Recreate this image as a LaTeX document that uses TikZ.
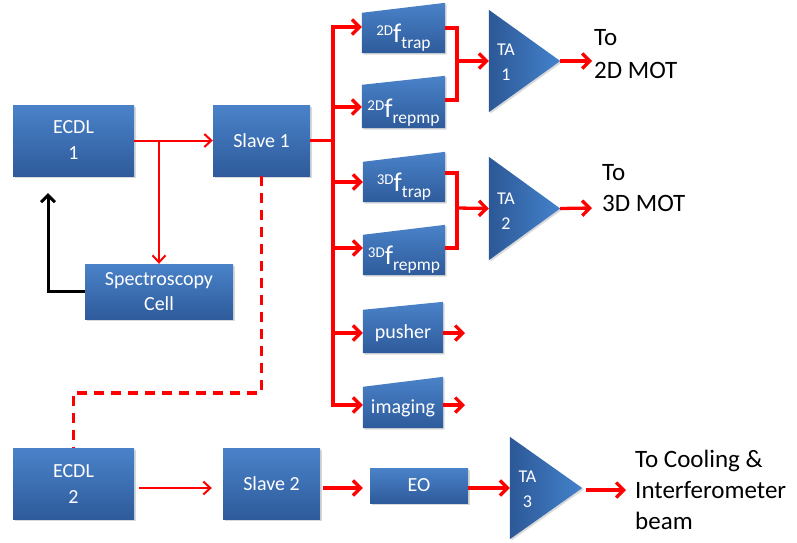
\documentclass[tikz,border=0pt]{standalone}
\usepackage{fontspec}
\setmainfont{Carlito}
\usetikzlibrary{arrows.meta,shadows,calc}
\pgfdeclarelayer{background}
\pgfsetlayers{background,main}
\definecolor{boxtop}{RGB}{74,130,201}
\definecolor{boxbot}{RGB}{46,91,155}
\definecolor{taleft}{RGB}{44,88,150}
\definecolor{taright}{RGB}{68,130,204}
\definecolor{beam}{RGB}{255,0,0}
\newcommand\aomlab[2]{{\fontsize{15}{15}\selectfont\raisebox{7pt}{#1}}{\fontsize{27}{27}\selectfont f}{\fontsize{17.5}{17.5}\selectfont\raisebox{-6pt}{#2}}}
\tikzset{
  blockbox/.style={rectangle, inner sep=0pt, top color=boxtop, bottom color=boxbot, draw=none,
    text=white, font=\fontsize{20}{26}\selectfont, align=center,
    drop shadow={opacity=0.3, shadow xshift=1.5pt, shadow yshift=-1.5pt}},
  frame/.style={rectangle, inner sep=0pt},
  aomshape/.style={top color=boxtop, bottom color=boxbot,
    drop shadow={opacity=0.3, shadow xshift=1.5pt, shadow yshift=-1.5pt}},
  tashape/.style={left color=taleft, right color=taright,
    drop shadow={opacity=0.3, shadow xshift=1.5pt, shadow yshift=-1.5pt}},
  wtext/.style={text=white, inner sep=0pt, align=center},
  talab/.style={wtext, font=\fontsize{18}{25}\selectfont},
  btext/.style={text=black, inner sep=0pt, align=left, anchor=west, font=\fontsize{25}{31}\selectfont},
  thinbeam/.style={draw=beam, line width=2pt, -{Straight Barb[length=7pt,width=13pt]}},
  thickbeam/.style={draw=beam, line width=3.3pt, -{Straight Barb[length=7.5pt,width=15pt]}},
  busline/.style={draw=beam, line width=3.3pt},
  dashbeam/.style={draw=beam, line width=3.3pt, dash pattern=on 10pt off 7pt},
  blackfb/.style={draw=black, line width=3pt, -{Straight Barb[length=7pt,width=14pt]}},
}
\begin{document}
\begin{tikzpicture}[x=1pt,y=-1pt]
\useasboundingbox (0,0) rectangle (797,542);
% rectangular blocks
\node[blockbox, minimum width=121pt, minimum height=71pt] (e1) at (73.5,140.5) {ECDL\\1};
\node[blockbox, minimum width=97pt, minimum height=71pt] (s1) at (261.5,140.5) {Slave 1};
\node[blockbox, minimum width=148pt, minimum height=55pt, font=\fontsize{20}{25}\selectfont] (spec) at (159,291.5) {Spectroscopy\\Cell};
\node[blockbox, minimum width=121pt, minimum height=71pt] (e2) at (73.5,483.5) {ECDL\\2};
\node[blockbox, minimum width=97pt, minimum height=71pt] (s2) at (271.5,483.5) {Slave 2};
\node[blockbox, minimum width=98pt, minimum height=35pt] (eo) at (419,485.5) {EO};
% trapezoid frames
\node[frame, minimum width=83pt, minimum height=50pt] (a2t) at (403.5,28) {};
\node[frame, minimum width=83pt, minimum height=52pt] (a2r) at (403.5,102) {};
\node[frame, minimum width=82pt, minimum height=50pt] (a3t) at (404,177) {};
\node[frame, minimum width=82pt, minimum height=50pt] (a3r) at (404,250) {};
\node[frame, minimum width=80pt, minimum height=51pt] (push) at (403,327.5) {};
\node[frame, minimum width=80pt, minimum height=51pt] (img) at (403,402.5) {};
% triangle frames
\node[frame, minimum width=71pt, minimum height=102pt] (ta1) at (524.5,61) {};
\node[frame, minimum width=71pt, minimum height=103pt] (ta2) at (524.5,208.5) {};
\node[frame, minimum width=72pt, minimum height=102pt] (ta3) at (546,488) {};
\begin{pgfonlayer}{background}
\foreach \nm/\dy in {a2t/10pt,a2r/9pt,a3t/10pt,a3r/10pt,push/8pt,img/10pt}
  \path[aomshape] (\nm.south west) -- (\nm.south east) -- (\nm.north east) -- ([yshift=-\dy]\nm.north west) -- cycle;
\foreach \nm in {ta1,ta2,ta3}
  \path[tashape] (\nm.north west) -- (\nm.east) -- (\nm.south west) -- cycle;
\end{pgfonlayer}
% labels
\node[wtext, anchor=base] (a2tl) at ([yshift=11pt]a2t.south) {\aomlab{2D}{trap}};
\node[wtext, anchor=base] (a2rl) at ([yshift=11pt]a2r.south) {\aomlab{2D}{repmp}};
\node[wtext, anchor=base] (a3tl) at ([yshift=11pt]a3t.south) {\aomlab{3D}{trap}};
\node[wtext, anchor=base] (a3rl) at ([yshift=11pt]a3r.south) {\aomlab{3D}{repmp}};
\node[wtext, anchor=base, font=\fontsize{20}{24}\selectfont] (pushl) at ([yshift=15pt]push.south) {pusher};
\node[wtext, anchor=base, font=\fontsize{20}{24}\selectfont] (imgl) at ([yshift=15pt]img.south) {imaging};
\node[talab] (ta1l) at (506,62) {TA\\1};
\node[talab] (ta2l) at (506,211) {TA\\2};
\node[talab] (ta3l) at (527.5,489.5) {TA\\3};
\node[btext] (mot2) at (594,54) {To\\[2pt]2D MOT};
\node[btext] (mot3) at (602,188) {To\\3D MOT};
\node[btext] (cool) at (635,490) {To Cooling \&\\Interferometer\\beam};
% coordinates
\coordinate (bus) at (333,140.5);
\coordinate (j2) at (457,61);
\coordinate (j3) at (457,208);
\coordinate (pusho) at (465,333);
\coordinate (imgo) at (465,405);
\coordinate (o1) at (592,61);
\coordinate (o2) at (592,208);
\coordinate (o3) at (626,490);
\coordinate (fb) at (48,193);
\coordinate (dcorner) at (73.5,393);
% upper left
\draw[thinbeam] (e1.east) -- (s1.west);
\draw[thinbeam] (e1.east -| spec.north) -- (spec.north);
\draw[blackfb] (spec.west) -| (fb);
\draw[dashbeam] (s1.south) |- (dcorner) -- (e2.north);
% bus
\draw[busline] (s1.east) -- (bus);
\draw[thickbeam] (bus) |- ([yshift=1pt]a2t.west);
\draw[thickbeam] (bus) |- ([yshift=-5pt]a2r.west);
\draw[thickbeam] (bus) |- ([yshift=-5pt]a3t.west);
\draw[thickbeam] (bus) |- ([yshift=2pt]a3r.west);
\draw[thickbeam] (bus) |- ([yshift=-5.5pt]push.west);
\draw[thickbeam] (bus) |- ([yshift=-2.5pt]img.west);
% combiners
\draw[busline] (a2t.east) -| (j2) |- ([yshift=2pt]a2r.east);
\draw[thickbeam] (j2) -- (ta1.west);
\draw[busline] ([yshift=4pt]a3t.east) -| (j3) |- ([yshift=2pt]a3r.east);
\draw[thickbeam] (j3) -- (ta2.west);
\draw[thickbeam] ([yshift=-5.5pt]push.east) -- (pusho);
\draw[thickbeam] ([yshift=-2.5pt]img.east) -- (imgo);
\draw[thickbeam] (ta1.east) -- (o1);
\draw[thickbeam] (ta2.east) -- (o2);
% bottom chain
\draw[thinbeam, shorten <=5pt, shorten >=11pt] ([yshift=-4.5pt]e2.east) -- ([yshift=-4.5pt]s2.west);
\draw[thickbeam, shorten <=3pt, shorten >=7pt] ([yshift=-4.5pt]s2.east) -- ([yshift=-2.5pt]eo.west);
\draw[thickbeam] ([yshift=-2.5pt]eo.east) -- (ta3.west);
\draw[thickbeam] ([xshift=4pt,yshift=-2pt]ta3.east) -- (o3);
\end{tikzpicture}
\end{document}
